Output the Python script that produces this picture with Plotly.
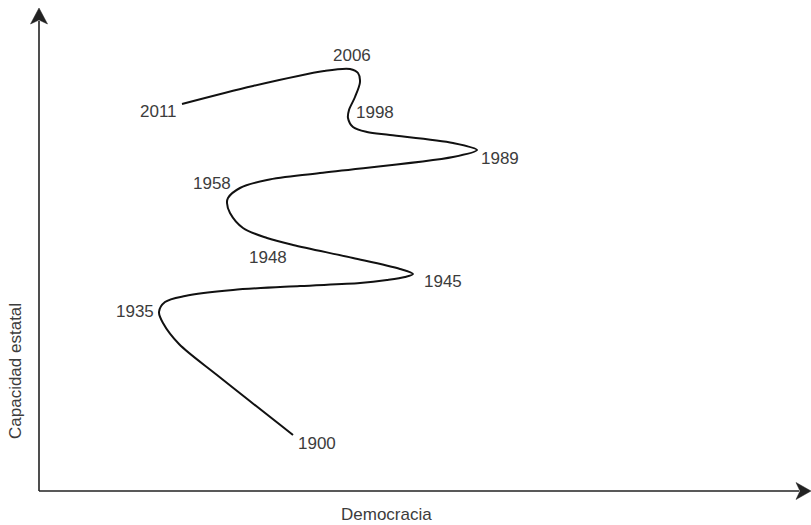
import plotly.graph_objects as go

# Trajectory (Democracia, Capacidad estatal), in order 1900 -> 2011
democracia = [254, 178, 140, 124, 120, 126, 146, 194, 261, 321, 348, 366, 374,
              361, 314, 254, 228, 204, 191, 188, 189, 201, 228, 281, 414, 438,
              414, 351, 328, 314, 309, 310, 316, 321, 319, 311, 285, 214, 143]
capacidad = [56, 116, 147, 168, 179, 189, 195, 201, 205, 208, 211, 214, 217,
             222, 233, 246, 253, 263, 278, 288, 293, 303, 311, 318, 334, 341,
             348, 356, 359, 364, 373, 381, 394, 409, 418, 422, 420, 405, 387]

# Year labels and the curve point each one is attached to
years = ["1900", "1935", "1945", "1948", "1958", "1989", "1998", "2006", "2011"]
year_point = [0, 4, 12, 15, 19, 25, 31, 35, 38]

x_title = "Democracia"
y_title = "Capacidad estatal"

# label offsets in pixels (style)
offsets = {
    "1900": (24, -8), "1935": (-24, 1), "1945": (30, -7), "1948": (-25, -12),
    "1958": (-15, 20), "1989": (23, -8), "1998": (26, -2), "2006": (2, 14),
    "2011": (-24, -7),
}

text_color = "#3c3c3c"
font_family = "Liberation Sans, Arial, sans-serif"
fsize = 17

fig = go.Figure()
fig.add_trace(go.Scatter(
    x=democracia, y=capacidad, mode="lines",
    line=dict(color="#111111", width=2, shape="spline", smoothing=0.9),
    hoverinfo="skip", showlegend=False,
))

annotations = []
for yr, idx in zip(years, year_point):
    dx, dy = offsets[yr]
    annotations.append(dict(
        x=democracia[idx], y=capacidad[idx], xref="x", yref="y",
        text=yr, showarrow=False, xshift=dx, yshift=dy,
        font=dict(size=fsize, color=text_color, family=font_family),
    ))

annotations.append(dict(x=0, y=0, xref="x", yref="y", xshift=347, yshift=-23,
                        text=x_title, showarrow=False,
                        font=dict(size=fsize, color=text_color, family=font_family)))
annotations.append(dict(x=0, y=0, xref="x", yref="y", xshift=-24, yshift=120,
                        text=y_title, showarrow=False, textangle=-90,
                        font=dict(size=fsize, color=text_color, family=font_family)))

axis_col = "#222222"
shapes = [
    dict(type="line", x0=0, y0=0, x1=0, y1=470, xref="x", yref="y",
         line=dict(color=axis_col, width=1.6)),
    dict(type="line", x0=0, y0=0, x1=760, y1=0, xref="x", yref="y",
         line=dict(color=axis_col, width=1.6)),
    dict(type="path", path="M 0 483 L -8.5 467 L 0 471 L 8.5 467 Z", xref="x", yref="y",
         fillcolor=axis_col, line=dict(color=axis_col, width=0.5)),
    dict(type="path", path="M 772 0 L 757 8.5 L 761 0 L 757 -8.5 Z", xref="x", yref="y",
         fillcolor=axis_col, line=dict(color=axis_col, width=0.5)),
]

fig.update_layout(
    width=811, height=525,
    margin=dict(l=0, r=0, t=0, b=0),
    paper_bgcolor="white", plot_bgcolor="white",
    xaxis=dict(range=[-39, 772], visible=False, fixedrange=True),
    yaxis=dict(range=[-34, 491], visible=False, fixedrange=True),
    annotations=annotations, shapes=shapes,
    showlegend=False,
)

fig.write_html("out.html", config={"displayModeBar": False, "staticPlot": True},
               post_script="document.body.style.margin='0';document.body.style.overflow='hidden';")
